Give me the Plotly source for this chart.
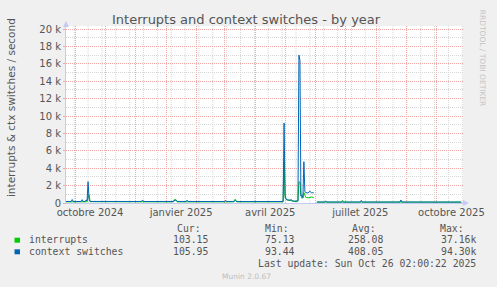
import plotly.graph_objects as go
import pandas as pd

# ---------------- data ----------------
cs_dates = ["2024-09-21", "2024-09-27", "2024-09-28", "2024-09-29", "2024-10-07", "2024-10-08",
            "2024-10-09", "2024-10-11", "2024-10-12", "2024-10-13", "2024-10-14", "2024-10-15",
            "2024-10-16", "2024-12-07", "2024-12-08", "2024-12-09", "2025-01-08", "2025-01-09",
            "2025-01-10", "2025-01-11", "2025-01-12", "2025-01-21", "2025-01-22", "2025-01-23",
            "2025-03-01", "2025-03-02", "2025-03-03", "2025-03-10", "2025-03-11", "2025-03-12",
            "2025-03-13", "2025-04-29", "2025-04-30", "2025-05-01", "2025-05-02", "2025-05-03",
            "2025-05-06", "2025-05-07", "2025-05-08", "2025-05-10", "2025-05-14", "2025-05-15",
            "2025-05-16", "2025-05-17", "2025-05-18", "2025-05-19", "2025-05-20", "2025-05-21",
            "2025-05-22", "2025-05-24", "2025-05-26", "2025-05-28", "2025-05-29", "2025-05-30",
            "2025-05-31", "2025-06-02", "2025-06-10", "2025-06-11", "2025-06-12", "2025-07-16",
            "2025-07-17", "2025-07-18", "2025-08-25", "2025-08-26", "2025-08-27", "2025-10-26"]
cs_values = [170, 170, 400, 170, 170, 380,
             170, 170, 350, 250, 2450, 450,
             180, 170, 350, 170, 170, 300,
             330, 300, 170, 170, 330, 170,
             170, 300, 170, 170, 260, 280,
             170, 170, 9200, 900, 500, 350,
             320, 400, 300, 200, 250, 17000,
             16400, 800, 900, 600, 4750, 1300,
             1200, 1150, 1350, 1150, 1200, 1150,
             None, 110, 110, 250, 110, 110,
             300, 110, 110, 350, 110, 106]

irq_dates = ["2024-09-21", "2024-10-13", "2024-10-14", "2024-10-15", "2024-10-16", "2025-01-08",
             "2025-01-09", "2025-01-10", "2025-01-11", "2025-01-12", "2025-03-10", "2025-03-11",
             "2025-03-12", "2025-03-13", "2025-04-29", "2025-04-30", "2025-05-01", "2025-05-02",
             "2025-05-05", "2025-05-10", "2025-05-14", "2025-05-15", "2025-05-16", "2025-05-17",
             "2025-05-18", "2025-05-19", "2025-05-20", "2025-05-21", "2025-05-22", "2025-05-25",
             "2025-05-28", "2025-05-30", "2025-05-31", "2025-06-02", "2025-06-27", "2025-06-28",
             "2025-06-29", "2025-10-26"]
irq_values = [130, 140, 700, 950, 150, 130,
              380, 400, 360, 130, 130, 380,
              400, 130, 130, 4750, 600, 400,
              300, 180, 200, 2450, 2400, 900,
              550, 600, 1200, 800, 650, 600,
              700, 600, None, 100, 100, 320,
              100, 103]

month_starts = ["2024-10-01", "2024-11-01", "2024-12-01", "2025-01-01", "2025-02-01", "2025-03-01",
                "2025-04-01", "2025-05-01", "2025-06-01", "2025-07-01", "2025-08-01", "2025-09-01",
                "2025-10-01"]
label_dates = ["2024-10-16", "2025-01-16", "2025-04-16", "2025-07-16", "2025-10-16"]
label_texts = ["octobre 2024", "janvier 2025", "avril 2025", "juillet 2025", "octobre 2025"]
y_ticks = [0, 2000, 4000, 6000, 8000, 10000, 12000, 14000, 16000, 18000, 20000]
y_labels = ["0", "2 k", "4 k", "6 k", "8 k", "10 k", "12 k", "14 k", "16 k", "18 k", "20 k"]

series_names = ["interrupts", "context switches"]
series_colors = ["#00cc00", "#0066b3"]
stats_cur = ["103.15", "105.95"]
stats_min = ["75.13", "93.44"]
stats_avg = ["258.08", "408.05"]
stats_max = ["37.16k", "94.30k"]

# ---------------- layout geometry ----------------
W, H = 497, 287
L, R, T, B = 66, 467, 26, 203

def fx(px):
    return (px - L) / (R - L)

def fy(py):
    return (B - py) / (B - T)

minor_weeks = pd.date_range("2024-09-30", "2025-10-27", freq="14D")

fig = go.Figure()
fig.add_trace(go.Scatter(x=pd.to_datetime(irq_dates), y=irq_values, mode="lines",
                         line=dict(color=series_colors[0], width=1), connectgaps=False,
                         showlegend=False, hoverinfo="skip"))
fig.add_trace(go.Scatter(x=pd.to_datetime(cs_dates), y=cs_values, mode="lines",
                         line=dict(color=series_colors[1], width=1), connectgaps=False,
                         showlegend=False, hoverinfo="skip"))

pink = "#f2a6a6"
grey = "#d6d6d6"
axis_col = "#c8c8f4"
txt = "#555555"

fig.update_layout(
    width=W, height=H, autosize=False,
    margin=dict(l=L, r=W - R, t=T, b=H - B, pad=0),
    paper_bgcolor="#f0f0f0", plot_bgcolor="#ffffff",
    font=dict(family="DejaVu Sans", color=txt),
    xaxis=dict(
        type="date",
        range=["2024-09-21 17:00", "2025-10-27 17:00"],
        tickmode="array", tickvals=label_dates, ticktext=label_texts,
        showgrid=False, zeroline=False,
        ticks="", tickfont=dict(size=10, color=txt, family="DejaVu Sans"),
        showline=True, linecolor=axis_col, linewidth=1,
        minor=dict(tickmode="array", tickvals=month_starts, showgrid=True,
                   gridcolor=pink, griddash="1px,1px", gridwidth=1, ticks=""),
        fixedrange=True,
    ),
    yaxis=dict(
        range=[0, 20000 * (B - T) / (B - 29)],
        tickmode="array", tickvals=y_ticks, ticktext=y_labels,
        showgrid=True, gridcolor=pink, griddash="1px,1px", gridwidth=1,
        zeroline=False, ticks="outside", ticklen=2, tickcolor=pink,
        tickfont=dict(size=10, color=txt, family="DejaVu Sans"),
        showline=True, linecolor=axis_col, linewidth=1,
        minor=dict(dtick=1000, tick0=0, showgrid=True, gridcolor=grey,
                   griddash="1px,1px", gridwidth=1, ticks=""),
        fixedrange=True,
    ),
)

shapes = []
for d in minor_weeks:
    shapes.append(dict(type="line", layer="below", xref="x", yref="paper",
                       x0=d, x1=d, y0=0, y1=1,
                       line=dict(color=grey, width=1, dash="1px,1px")))
# axis arrows
shapes.append(dict(type="path", xref="paper", yref="paper", layer="above",
                   path=f"M {fx(63)} {fy(27)} L {fx(69)} {fy(27)} L {fx(66)} {fy(21)} Z",
                   fillcolor=axis_col, line=dict(width=0)))
shapes.append(dict(type="path", xref="paper", yref="paper", layer="above",
                   path=f"M {fx(467)} {fy(200)} L {fx(467)} {fy(206)} L {fx(473)} {fy(203)} Z",
                   fillcolor=axis_col, line=dict(width=0)))
# legend squares
for i, c in enumerate(series_colors):
    y0 = 237.7 + i * 11.6
    shapes.append(dict(type="rect", xref="paper", yref="paper",
                       x0=fx(14), x1=fx(19.5), y0=fy(y0 + 5), y1=fy(y0),
                       fillcolor=c, line=dict(width=0)))
fig.update_layout(shapes=shapes)

ann = []
def add(text, x, y, xanchor="center", size=10, color=txt, family="DejaVu Sans", angle=0):
    ann.append(dict(text=text, x=fx(x), y=fy(y), xref="paper", yref="paper",
                    xanchor=xanchor, yanchor="middle", showarrow=False, textangle=angle,
                    font=dict(size=size, color=color, family=family)))

add("Interrupts and context switches - by year", 248, 19.5, size=13)
add("interrupts & ctx switches / second", 10.5, 108, size=10.5, angle=-90)
add("RRDTOOL / TOBI OETIKER", 487.5, 58, size=7.5, color="#c4c4c4", angle=90)

mono = "DejaVu Sans Mono"
ms = 9.8
add("Cur:", 204, 228, xanchor="right", size=ms, family=mono)
add("Min:", 293, 228, xanchor="right", size=ms, family=mono)
add("Avg:", 381, 228, xanchor="right", size=ms, family=mono)
add("Max:", 470, 228, xanchor="right", size=ms, family=mono)
for i, name in enumerate(series_names):
    yy = 239.7 + i * 11.6
    add(name, 27, yy, xanchor="left", size=ms, family=mono)
    add(stats_cur[i], 211, yy, xanchor="right", size=ms, family=mono)
    add(stats_min[i], 299, yy, xanchor="right", size=ms, family=mono)
    add(stats_avg[i], 388, yy, xanchor="right", size=ms, family=mono)
    add(stats_max[i], 482, yy, xanchor="right", size=ms, family=mono)
add("Last update: Sun Oct 26 02:00:22 2025", 482, 263.7, xanchor="right", size=ms, family=mono)
add("Munin 2.0.67", 248, 276, size=7.5, color="#bdbdbd")

fig.update_layout(annotations=ann)
fig.write_html("out.html")
